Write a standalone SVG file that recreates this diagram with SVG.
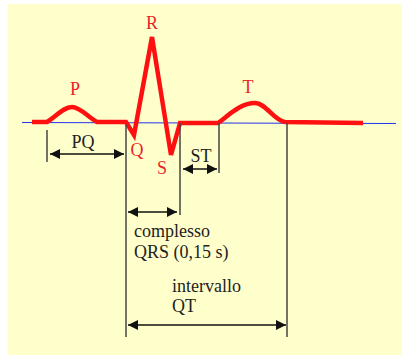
<svg xmlns="http://www.w3.org/2000/svg" width="403" height="356" viewBox="0 0 403 356">
<defs>
<marker id="ah" viewBox="0 0 10 10" refX="10" refY="5" markerWidth="10" markerHeight="10" markerUnits="userSpaceOnUse" orient="auto-start-reverse">
<path d="M0,0 L10,5 L0,10 z" fill="#111"/>
</marker>
<style>
.red{fill:#e8262a;text-anchor:middle}
.blk{fill:#222}
.vl{stroke:#444;stroke-width:1.5;fill:none}
.arr{stroke:#111;stroke-width:1.5;fill:none;marker-start:url(#ah);marker-end:url(#ah)}
</style>
</defs>
<rect x="8" y="4" width="394" height="351" fill="#ffffcc"/>
<line x1="22" y1="122.5" x2="396" y2="123.5" stroke="#2233ee" stroke-width="1.2"/>
<g id="trace">
<path d="M32,122 L47,122 C57,116 63,107 72,107 C80,107 88,117 97,122 L126,122 L134,135 L152,37 L171,155 L180,123 L218,123 C228,116 240,103 255,103 C266,103 274,121 285,122 L363,123" fill="none" stroke="#ff1010" stroke-width="4.5" stroke-linejoin="miter"/>
</g>
<g id="labels-waves" font-family="Liberation Serif, Times New Roman, DejaVu Serif, serif" font-size="18">
<text class="red" x="75" y="95">P</text>
<text class="red" x="152" y="29">R</text>
<text class="red" x="248" y="93">T</text>
<text class="red" x="137" y="156">Q</text>
<text class="red" x="162" y="174">S</text>
</g>
<g id="connectors">
<line class="vl" x1="47" y1="130" x2="47" y2="162"/>
<line class="vl" x1="126" y1="125" x2="126" y2="337"/>
<line class="vl" x1="180" y1="123" x2="180" y2="215"/>
<line class="vl" x1="219" y1="123" x2="219" y2="173"/>
<line class="vl" x1="287" y1="123" x2="287" y2="337"/>
<line class="arr" x1="50" y1="154" x2="124" y2="154"/>
<line class="arr" x1="183" y1="169" x2="217" y2="169"/>
<line class="arr" x1="128" y1="212" x2="177" y2="212"/>
<line class="arr" x1="128" y1="325" x2="286" y2="325"/>
</g>
<g id="labels-intervals" font-family="Liberation Serif, Times New Roman, DejaVu Serif, serif" font-size="18">
<text class="blk" x="83" y="148" text-anchor="middle">PQ</text>
<text class="blk" x="201" y="162" text-anchor="middle">ST</text>
<text class="blk" x="134" y="237">complesso</text>
<text class="blk" x="134" y="258">QRS (0,15 s)</text>
<text class="blk" x="172" y="292">intervallo</text>
<text class="blk" x="172" y="312">QT</text>
</g>
</svg>
